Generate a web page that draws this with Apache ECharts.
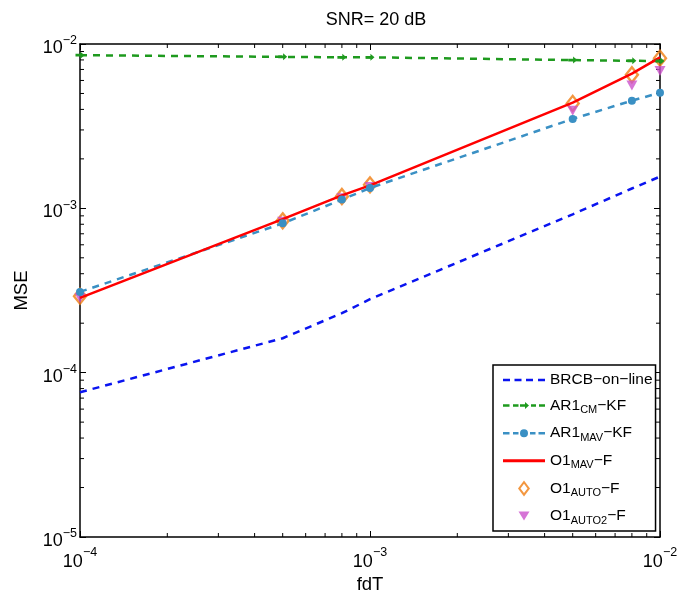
<!DOCTYPE html>
<html>
<head>
<meta charset="utf-8">
<script src="https://cdn.jsdelivr.net/npm/echarts@6/dist/echarts.min.js"></script>
<style>html,body{margin:0;padding:0;background:#fff}#c{width:680px;height:595px}</style>
</head>
<body>
<div id="c"></div>
<script>
// ---- data ----
const fdT = [1e-4, 5e-4, 8e-4, 1e-3, 5e-3, 8e-3, 1e-2];
const brcbOnline = [7.6e-5, 1.62e-4, 2.3e-4, 2.8e-4, 9.2e-4, 1.32e-3, 1.56e-3];
const ar1CM = [8.55e-3, 8.35e-3, 8.3e-3, 8.3e-3, 7.98e-3, 7.9e-3, 7.88e-3];
const ar1MAV = [3.1e-4, 8.1e-4, 1.13e-3, 1.33e-3, 3.5e-3, 4.52e-3, 5.05e-3];
const o1MAV = [2.85e-4, 8.6e-4, 1.2e-3, 1.38e-3, 4.4e-3, 6.6e-3, 8.3e-3];
const o1AUTO = [2.92e-4, 8.4e-4, 1.18e-3, 1.39e-3, 4.35e-3, 6.5e-3, 8.2e-3];
const o1AUTO2 = [2.85e-4, 8.3e-4, 1.15e-3, 1.35e-3, 3.93e-3, 5.6e-3, 6.85e-3];
const xRange = [1e-4, 1e-2];
const yRange = [1e-5, 1e-2];
const xMinorTicks = [2,3,4,5,6,7,8,9].map(m => m * 1e-4).concat([2,3,4,5,6,7,8,9].map(m => m * 1e-3));
const yMinorTicks = [1e-5, 1e-4, 1e-3].flatMap(d => [2,3,4,5,6,7,8,9].map(m => m * d));
const names = ['BRCB−on−line', 'AR1CM−KF', 'AR1MAV−KF', 'O1MAV−F', 'O1AUTO−F', 'O1AUTO2−F'];
const colors = ['#0a14f0', '#1e9a1e', '#3a90c4', '#ff0000', '#f07d10', '#cc52cc'];

const pair = arr => fdT.map((x, i) => [x, arr[i]]);
const FONT = 'Liberation Sans, Arial, sans-serif';

function expLabel(v) {
  const e = Math.round(Math.log10(v));
  return '{b|10}{s|−' + Math.abs(e) + '}';
}
const xLabelRich = {
  b: { fontSize: 18, fontFamily: FONT, color: '#000', padding: [11, 0, 0, 0] },
  s: { fontSize: 12.5, fontFamily: FONT, color: '#000', padding: [0, 0, 8, 0] }
};
const yLabelRich = {
  b: { fontSize: 18, fontFamily: FONT, color: '#000', padding: [8, 0, 0, 0] },
  s: { fontSize: 12.5, fontFamily: FONT, color: '#000', padding: [0, 0, 6, 0] }
};

function legendFmt(name) {
  const m = {
    'BRCB−on−line': '{n|BRCB−on−line}',
    'AR1CM−KF': '{n|AR1}{sub|CM}{n|−KF}',
    'AR1MAV−KF': '{n|AR1}{sub|MAV}{n|−KF}',
    'O1MAV−F': '{n|O1}{sub|MAV}{n|−F}',
    'O1AUTO−F': '{n|O1}{sub|AUTO}{n|−F}',
    'O1AUTO2−F': '{n|O1}{sub|AUTO2}{n|−F}'
  };
  return m[name];
}

// legend icons drawn in a 42x16 box (corner specks fix the bounding box)
const corners = 'M0,0 L0.01,0 L0,0.01 Z M42,16 L41.99,16 L42,15.99 Z ';
const dash = (a, b) => `M${a},6.75 L${b},6.75 L${b},9.25 L${a},9.25 Z `;
const legendIcons = [
  'path://' + corners + dash(0, 7) + dash(11.5, 18.5) + dash(23, 30) + dash(35, 42),
  'path://' + corners + dash(0, 6.5) + dash(10, 15.5) + 'M17,6.75 L22,6.75 L22,4.5 L26,8 L22,11.5 L22,9.25 L17,9.25 Z ' + dash(28, 33) + dash(36, 42),
  'path://' + corners + dash(0, 6.5) + dash(10, 15.5) + 'M17,8 A4,4 0 1,0 25,8 A4,4 0 1,0 17,8 Z ' + dash(27, 32.5) + dash(35.5, 42),
  'path://' + corners + 'M0,6.5 L42,6.5 L42,9.5 L0,9.5 Z',
  'path://' + corners + 'M21,0 L27,8 L21,16 L15,8 Z M21,3.3 L17.5,8 L21,12.7 L24.5,8 Z',
  'path://' + corners + 'M15.5,3.5 L26.5,3.5 L21,12.5 Z'
];

const arrowPath = 'path://M0,3 L6,3 L6,0 L11,5 L6,10 L6,7 L0,7 Z';

function minorX(params, api) {
  const p = api.coord([api.value(0), yRange[0]]);
  const cs = params.coordSys;
  const st = { stroke: '#000', lineWidth: 1 };
  return { type: 'group', children: [
    { type: 'line', shape: { x1: p[0], y1: cs.y + cs.height, x2: p[0], y2: cs.y + cs.height - 4 }, style: st },
    { type: 'line', shape: { x1: p[0], y1: cs.y, x2: p[0], y2: cs.y + 4 }, style: st }
  ]};
}
function minorY(params, api) {
  const p = api.coord([xRange[0], api.value(1)]);
  const cs = params.coordSys;
  const st = { stroke: '#000', lineWidth: 1 };
  return { type: 'group', children: [
    { type: 'line', shape: { x1: cs.x, y1: p[1], x2: cs.x + 4, y2: p[1] }, style: st },
    { type: 'line', shape: { x1: cs.x + cs.width, y1: p[1], x2: cs.x + cs.width - 4, y2: p[1] }, style: st }
  ]};
}

const axisCommon = {
  type: 'log', logBase: 10,
  axisLine: { show: true, lineStyle: { color: '#000', width: 1.5 } },
  axisTick: { show: true, inside: true, length: 6, lineStyle: { color: '#000', width: 1 } },
  splitLine: { show: false },
  minorTick: { show: false }
};

const chart = echarts.init(document.getElementById('c'), null, { renderer: 'canvas' });
chart.setOption({
  animation: false,
  backgroundColor: '#fff',
  title: {
    text: 'SNR= 20 dB', left: 371, top: 6, textAlign: 'center',
    textStyle: { fontSize: 18, fontWeight: 'normal', fontFamily: FONT, color: '#000' }
  },
  grid: { left: 80, right: 20, top: 44, bottom: 58, containLabel: false, outerBoundsMode: 'none' },
  xAxis: [
    Object.assign({}, axisCommon, {
      min: xRange[0], max: xRange[1], position: 'bottom',
      name: 'fdT', nameLocation: 'middle', nameGap: 37,
      nameTextStyle: { fontSize: 18.5, fontFamily: FONT, color: '#000' },
      axisLabel: { formatter: expLabel, rich: xLabelRich, margin: 5 }
    }),
    Object.assign({}, axisCommon, {
      min: xRange[0], max: xRange[1], position: 'top',
      axisLabel: { show: false }
    })
  ],
  yAxis: [
    Object.assign({}, axisCommon, {
      min: yRange[0], max: yRange[1], position: 'left',
      name: 'MSE', nameLocation: 'middle', nameGap: 49,
      nameTextStyle: { fontSize: 18.5, fontFamily: FONT, color: '#000' },
      axisLabel: { formatter: expLabel, rich: yLabelRich, margin: 3 }
    }),
    Object.assign({}, axisCommon, {
      min: yRange[0], max: yRange[1], position: 'right',
      axisLabel: { show: false }
    })
  ],
  legend: {
    data: names.map((n, i) => ({ name: n, icon: legendIcons[i], itemStyle: { color: colors[i], borderWidth: 0 } })),
    orient: 'vertical', left: 493, top: 365,
    padding: [7, 3, 5, 10],
    backgroundColor: '#fff',
    borderColor: '#000', borderWidth: 1.5,
    itemWidth: 42, itemHeight: 16, itemGap: 9.6,
    symbolKeepAspect: false,
    formatter: legendFmt,
    textStyle: {
      fontFamily: FONT, color: '#000',
      rich: {
        n: { fontSize: 15.5, fontFamily: FONT, color: '#000' },
        sub: { fontSize: 11, fontFamily: FONT, color: '#000', padding: [9, 0, 0, 0] }
      }
    }
  },
  series: [
    { type: 'custom', renderItem: minorX, data: xMinorTicks.map(v => [v, yRange[0]]), clip: false, silent: true, z: 1 },
    { type: 'custom', renderItem: minorY, data: yMinorTicks.map(v => [xRange[0], v]), clip: false, silent: true, z: 1 },
    {
      name: names[0], type: 'line', data: pair(brcbOnline), showSymbol: false, symbol: 'none',
      lineStyle: { color: colors[0], width: 2.5, type: [7, 6] }, itemStyle: { color: colors[0] }
    },
    {
      name: names[1], type: 'line', data: pair(ar1CM), symbol: arrowPath, symbolSize: [9, 7],
      lineStyle: { color: colors[1], width: 2.5, type: [7, 6] }, itemStyle: { color: colors[1] }
    },
    {
      name: names[2], type: 'line', data: pair(ar1MAV), symbol: 'circle', symbolSize: 8,
      lineStyle: { color: colors[2], width: 2.5, type: [7, 6] }, itemStyle: { color: colors[2] }
    },
    {
      name: names[3], type: 'line', data: pair(o1MAV), symbol: 'none', showSymbol: false,
      lineStyle: { color: colors[3], width: 2.5 }, itemStyle: { color: colors[3] }
    },
    {
      name: names[4], type: 'scatter', data: pair(o1AUTO), symbol: 'diamond', symbolSize: [12, 15],
      itemStyle: { color: 'rgba(0,0,0,0)', borderColor: colors[4], borderWidth: 2.4 }
    },
    {
      name: names[5], type: 'scatter', data: pair(o1AUTO2), symbol: 'triangle', symbolRotate: 180, symbolSize: [11, 10],
      itemStyle: { color: colors[5] }
    }
  ]
});
</script>
</body>
</html>
